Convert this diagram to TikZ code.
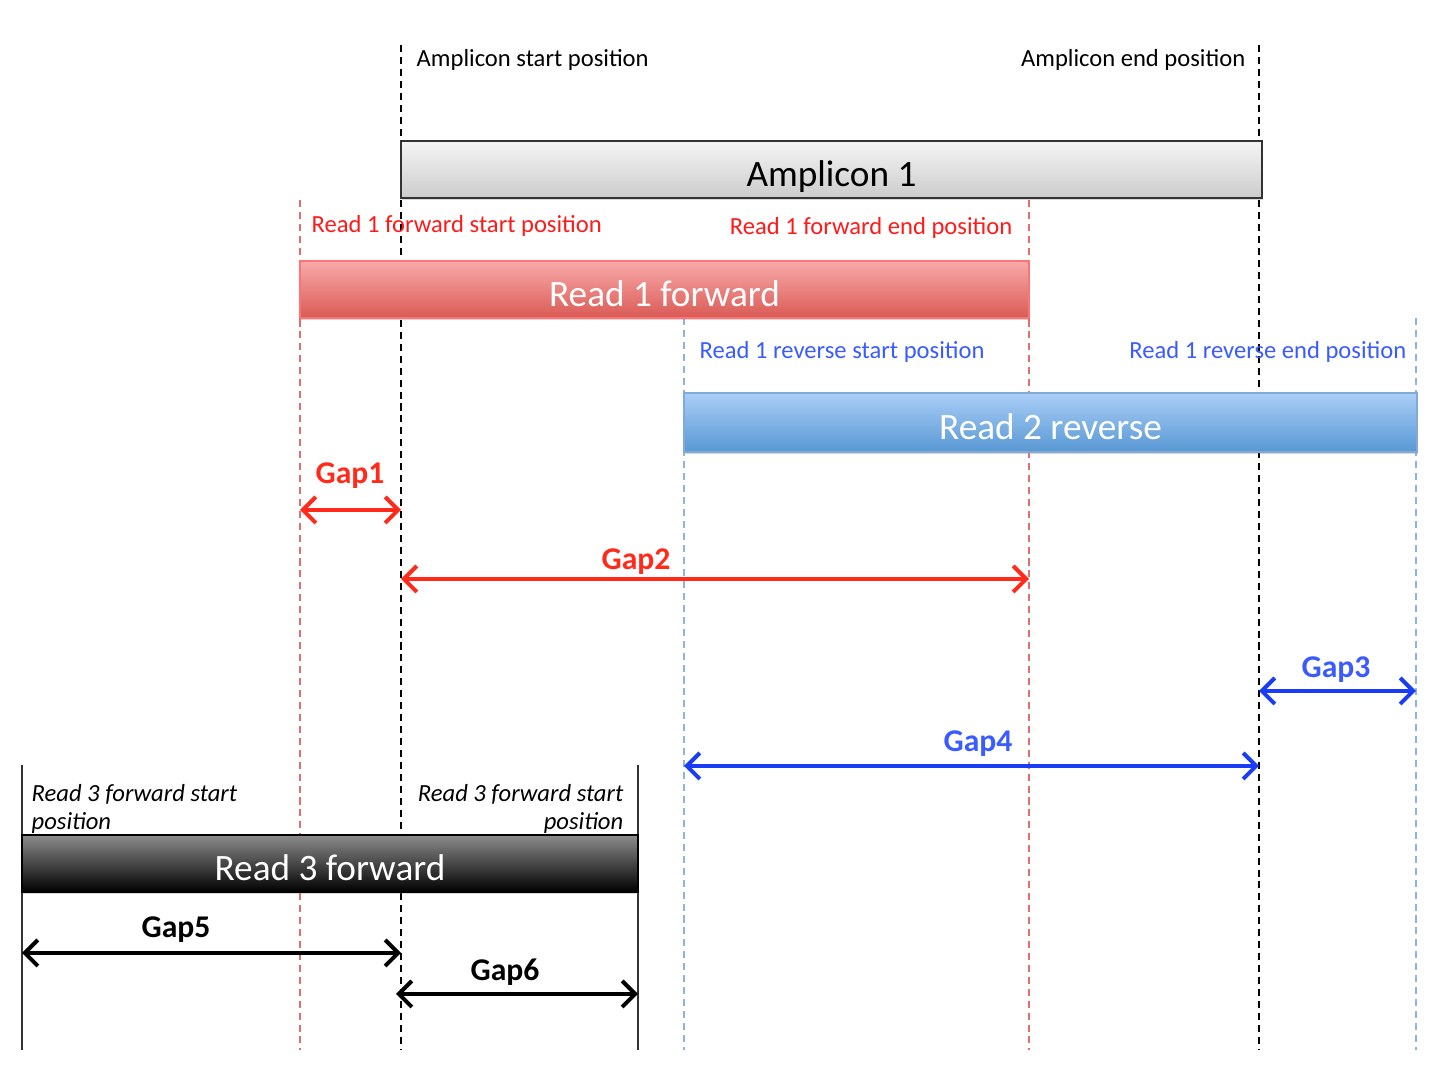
\documentclass[tikz,border=0pt]{standalone}
\usepackage{fontspec}
\setmainfont{Carlito}
\usepackage{xcolor}
\usetikzlibrary{arrows.meta,shadows}
\definecolor{posred}{HTML}{FF1A1A}
\definecolor{gapred}{HTML}{FF2A1A}
\definecolor{posblue}{HTML}{3A5BFF}
\definecolor{gapblue}{HTML}{1A3CF5}
\definecolor{dashred}{HTML}{E07070}
\definecolor{dashblue}{HTML}{8FB4DC}
\tikzset{
blackdash/.style={draw=black,dash pattern=on 2pt off 1.4pt,line width=0.45pt},
reddash/.style={draw=dashred,dash pattern=on 2pt off 1.4pt,line width=0.45pt},
bluedash/.style={draw=dashblue,dash pattern=on 2pt off 1.4pt,line width=0.55pt},
blackline/.style={draw=black!80,line width=0.6pt},
barbase/.style={rectangle,inner sep=0pt,minimum height=0.57cm,text height=0.95em,text depth=0pt,font=\fontsize{10.6}{13}\selectfont,drop shadow={shadow xshift=0.3pt,shadow yshift=-0.6pt,opacity=0.3}},
ampbar/.style={barbase,draw=black!80,line width=0.6pt,top color=black!4,bottom color=black!20,minimum width=8.61cm,text=black},
fwdbar/.style={barbase,draw=red!55!white,line width=0.4pt,top color={rgb,255:red,249;green,170;blue,170},bottom color={rgb,255:red,218;green,90;blue,85},minimum width=7.29cm,text=white},
revbar/.style={barbase,draw={rgb,255:red,130;green,170;blue,215},line width=0.4pt,top color={rgb,255:red,170;green,206;blue,247},bottom color={rgb,255:red,88;green,152;blue,212},minimum width=7.33cm,minimum height=0.59cm,text=white},
blkbar/.style={barbase,draw=black,line width=0.6pt,top color=black!45,bottom color=black,minimum width=6.16cm,text=white},
poslabel/.style={inner sep=0pt,font=\fontsize{7}{8}\selectfont},
poslabelit/.style={inner sep=0pt,align=left,font=\fontsize{7}{8}\selectfont\itshape},
gaplabel/.style={inner sep=0pt,font=\fontsize{9}{11}\selectfont\bfseries},
gaparrow/.style={line width=1.15pt,{Straight Barb[length=1.3mm,width=2.6mm]}-{Straight Barb[length=1.3mm,width=2.6mm]}},
}
\begin{document}
\begin{tikzpicture}
\useasboundingbox (0,0) rectangle (14.42,-10.8);
% end points of the position lines
\coordinate (ampSt) at (4.01,-0.45);
\coordinate (ampSb) at (4.01,-10.5);
\coordinate (ampEt) at (12.59,-0.45);
\coordinate (ampEb) at (12.59,-10.5);
\coordinate (fwdSt) at (3.00,-2.00);
\coordinate (fwdSb) at (3.00,-10.5);
\coordinate (fwdEt) at (10.29,-2.00);
\coordinate (fwdEb) at (10.29,-10.5);
\coordinate (revSt) at (6.84,-3.18);
\coordinate (revSb) at (6.84,-10.5);
\coordinate (revEt) at (14.16,-3.18);
\coordinate (revEb) at (14.16,-10.5);
\coordinate (r3St) at (0.22,-7.65);
\coordinate (r3Sb) at (0.22,-10.5);
\coordinate (r3Et) at (6.38,-7.65);
\coordinate (r3Eb) at (6.38,-10.5);

\draw[blackdash] (ampSt) -- (ampSb);
\draw[blackdash] (ampEt) -- (ampEb);
\draw[reddash] (fwdSt) -- (fwdSb);
\draw[reddash] (fwdEt) -- (fwdEb);
\draw[bluedash] (revSt) -- (revSb);
\draw[bluedash] (revEt) -- (revEb);
\draw[blackline] (r3St) -- (r3Sb);
\draw[blackline] (r3Et) -- (r3Eb);

% bars
\node[ampbar] at (8.315,-1.695) (amp) {Amplicon 1};
\node[fwdbar] at (6.645,-2.895) (read1) {Read 1 forward};
\node[revbar] at (10.505,-4.225) (read2) {Read 2 reverse};
\node[blkbar] at (3.30,-8.635) (read3) {Read 3 forward};

% position labels
\node[poslabel,anchor=west] at (4.16,-0.60) (ampSl) {Amplicon start position};
\node[poslabel,anchor=east] at (12.46,-0.60) (ampEl) {Amplicon end position};
\node[poslabel,anchor=west,text=posred] at (3.11,-2.26) (fwdSl) {Read 1 forward start position};
\node[poslabel,anchor=east,text=posred] at (10.13,-2.28) (fwdEl) {Read 1 forward end position};
\node[poslabel,anchor=west,text=posblue] at (6.99,-3.52) (revSl) {Read 1 reverse start position};
\node[poslabel,anchor=east,text=posblue] at (14.07,-3.52) (revEl) {Read 1 reverse end position};
\node[poslabelit,anchor=north west] at (0.31,-7.84) (r3Sl) {Read 3 forward start\\position};
\node[poslabelit,anchor=north east,align=right] at (6.24,-7.84) (r3El) {Read 3 forward start\\position};

% gaps
\coordinate (g1a) at (3.00,-5.10);
\coordinate (g1b) at (4.01,-5.10);
\coordinate (g2a) at (4.01,-5.79);
\coordinate (g2b) at (10.29,-5.79);
\coordinate (g3a) at (12.59,-6.91);
\coordinate (g3b) at (14.16,-6.91);
\coordinate (g4a) at (6.84,-7.66);
\coordinate (g4b) at (12.59,-7.66);
\coordinate (g5a) at (0.22,-9.53);
\coordinate (g5b) at (4.01,-9.53);
\coordinate (g6a) at (3.96,-9.94);
\coordinate (g6b) at (6.38,-9.94);
\draw[gaparrow,gapred] (g1a) -- (g1b);
\draw[gaparrow,gapred] (g2a) -- (g2b);
\draw[gaparrow,gapblue] (g3a) -- (g3b);
\draw[gaparrow,gapblue] (g4a) -- (g4b);
\draw[gaparrow,black] (g5a) -- (g5b);
\draw[gaparrow,black] (g6a) -- (g6b);
\node[gaplabel,text=gapred] at (3.50,-4.76) (gap1) {Gap1};
\node[gaplabel,text=gapred] at (6.36,-5.62) (gap2) {Gap2};
\node[gaplabel,text=posblue] at (13.36,-6.70) (gap3) {Gap3};
\node[gaplabel,text=posblue] at (9.78,-7.44) (gap4) {Gap4};
\node[gaplabel] at (1.76,-9.30) (gap5) {Gap5};
\node[gaplabel] at (5.05,-9.72) (gap6) {Gap6};
\end{tikzpicture}
\end{document}
